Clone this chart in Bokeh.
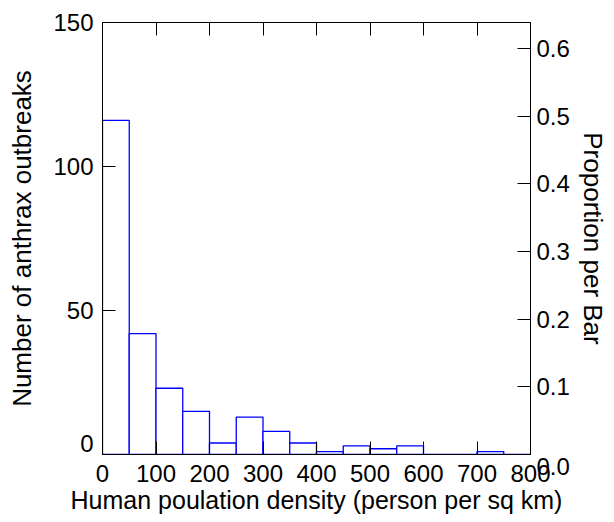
from bokeh.plotting import figure
from bokeh.models import LinearAxis, Range1d, FixedTicker, NumeralTickFormatter, Title
from bokeh.embed import file_html
from bokeh.resources import INLINE

# histogram bins (person per sq km)
bin_left = [0, 50, 100, 150, 200, 250, 300, 350, 400, 450, 500, 550, 600, 650, 700, 750]
bin_right = [50, 100, 150, 200, 250, 300, 350, 400, 450, 500, 550, 600, 650, 700, 750, 800]
# number of anthrax outbreaks per bin
counts = [116, 42, 23, 15, 4, 13, 8, 4, 1, 3, 2, 3, 0, 0, 1, 0]

x_ticks = [0, 100, 200, 300, 400, 500, 600, 700, 800]
count_ticks = [0, 50, 100, 150]
prop_ticks = [0.0, 0.1, 0.2, 0.3, 0.4, 0.5, 0.6]

x_title = "Human poulation density (person per sq km)"
y_title = "Number of anthrax outbreaks"
y2_title = "Proportion per Bar"

FONT = "Liberation Sans"
total = sum(counts)
x_max = bin_right[-1]
y_max = count_ticks[-1]
prop_max = y_max / total

p = figure(width=614, height=522,
           x_range=Range1d(0, x_max), y_range=Range1d(0, y_max),
           output_backend="svg", toolbar_location=None,
           min_border_left=102, min_border_top=22,
           min_border_right=82, min_border_bottom=68,
           background_fill_color="white", border_fill_color="white")
p.extra_y_ranges = {"prop": Range1d(0, prop_max)}
p.xgrid.visible = False
p.ygrid.visible = False
p.outline_line_color = "black"
p.outline_line_width = 1

p.quad(left=bin_left, right=bin_right, bottom=0, top=counts,
       fill_color="white", line_color="#0000FF", line_width=1.3)


def style(ax, tick_font="24px", title_font="24px"):
    ax.axis_line_color = "black"
    ax.major_tick_line_color = "black"
    ax.major_tick_in = 13
    ax.major_tick_out = 0
    ax.minor_tick_line_color = None
    ax.major_label_text_font = FONT
    ax.major_label_text_font_size = tick_font
    ax.major_label_text_color = "black"
    ax.axis_label_text_font = FONT
    ax.axis_label_text_font_size = title_font
    ax.axis_label_text_font_style = "normal"
    ax.axis_label_text_color = "black"


xa = p.xaxis[0]
xa.ticker = FixedTicker(ticks=x_ticks)
xa.axis_label = x_title
style(xa, "24px", "25px")
xa.major_label_standoff = 10
xa.axis_label_standoff = 1

ya = p.yaxis[0]
ya.ticker = FixedTicker(ticks=count_ticks)
ya.axis_label = y_title
style(ya, "24px", "26px")
ya.major_label_standoff = 9
ya.axis_label_standoff = 13
# lift the "0" off the x axis, as in the original
ya.major_label_overrides = {0: "0\n"}
ya.major_label_text_line_height = 0.85

ra = LinearAxis(y_range_name="prop", ticker=FixedTicker(ticks=prop_ticks),
                formatter=NumeralTickFormatter(format="0.0"))
style(ra, "24px", "26px")
ra.major_label_standoff = 6
ra.major_label_overrides = {0: "\n0.0"}
ra.major_label_text_line_height = 0.9
p.add_layout(ra, "right")

p.add_layout(Title(text=y2_title, align="center", text_font=FONT,
                   text_font_size="26px", text_font_style="normal",
                   text_color="black", standoff=10), "right")

ta = LinearAxis(ticker=FixedTicker(ticks=x_ticks))
style(ta, "1px", "1px")
ta.major_label_text_color = None
ta.major_label_standoff = 0
p.add_layout(ta, "above")

open("out.html", "w").write(file_html(p, INLINE))
